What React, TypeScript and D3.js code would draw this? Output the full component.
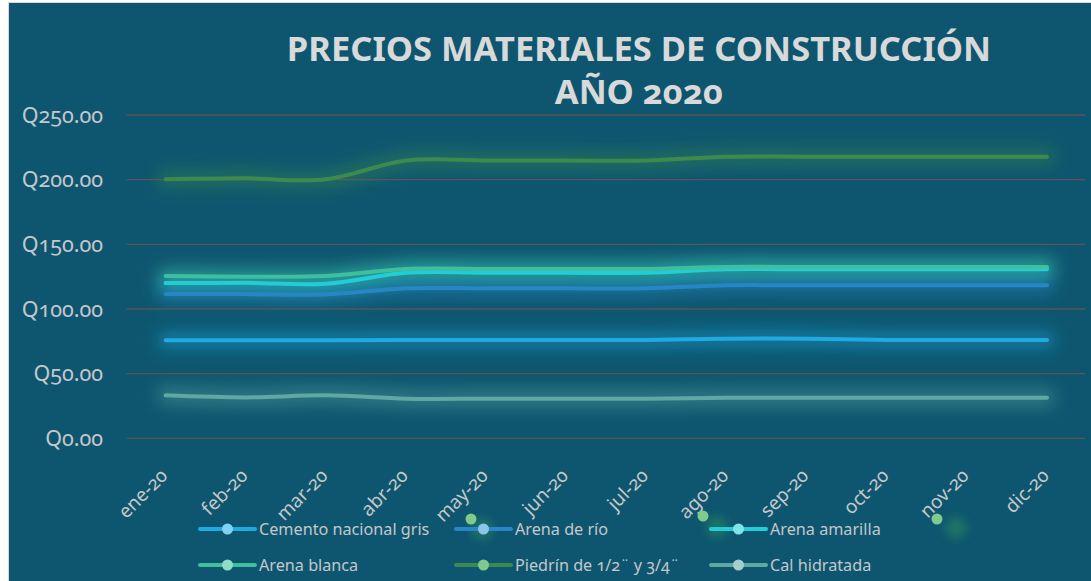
import React from "react";
import * as d3 from "d3";

const months = ["ene-20", "feb-20", "mar-20", "abr-20", "may-20", "jun-20", "jul-20", "ago-20", "sep-20", "oct-20", "nov-20", "dic-20"];

const cemento = [75.8, 75.8, 75.8, 76, 76, 76, 76, 77, 77, 76, 76, 76];
const arenaRio = [111.5, 111.5, 111.3, 116, 116, 116, 116, 118.3, 118.3, 118.3, 118.3, 118.3];
const arenaAmarilla = [120, 120.2, 119.5, 128, 128, 128, 128, 130.7, 130.7, 130.7, 130.7, 130.7];
const arenaBlanca = [125.5, 125, 125.5, 131, 131, 131, 131, 132.5, 132.5, 132.5, 132.5, 132.5];
const piedrin = [200.3, 201, 200.3, 214.8, 214.8, 214.8, 214.8, 217.8, 217.8, 217.8, 217.8, 217.8];
const cal = [33.2, 31.6, 33.2, 30.6, 30.6, 30.6, 30.6, 31.3, 31.3, 31.3, 31.3, 31.3];

const seriesNames = ["Cemento nacional gris", "Arena de río", "Arena amarilla", "Arena blanca", "Piedrín de 1/2¨ y 3/4¨", "Cal hidratada"];
const seriesValues = [cemento, arenaRio, arenaAmarilla, arenaBlanca, piedrin, cal];
const seriesColors = ["#1eabe2", "#2786c8", "#22cdd6", "#3fbf9b", "#3e8a4c", "#5fa9a2"];
const markerColors = ["#7fd2f2", "#8cc4ec", "#7fe4ea", "#90dcc6", "#80c98e", "#a6cfca"];

const yTicks = [0, 50, 100, 150, 200, 250];
const titleLines = ["PRECIOS MATERIALES DE CONSTRUCCIÓN", "AÑO 2020"];

// decorative stray markers seen in the reference
const strayDots = [
  { x: 471, y: 519, gx: 482, gy: 529 },
  { x: 703, y: 516, gx: 717, gy: 527 },
  { x: 937, y: 519, gx: 956, gy: 528 },
];

const W = 1091;
const H = 581;
const BG = "#0e566f";
const TEXT = "#c4c8ca";
const FONT = "'Noto Sans', sans-serif";
const OLD = { fontVariantNumeric: "oldstyle-nums", fontFeatureSettings: "'onum' 1" } as React.CSSProperties;

export default function App() {
  const x = d3.scalePoint<string>().domain(months).range([165.7, 1047]);
  const y = d3.scaleLinear().domain([0, 250]).range([438.3, 115]);
  const line = d3
    .line<number>()
    .x((_, i) => x(months[i]) as number)
    .y((d) => y(d))
    .curve(d3.curveCardinal.tension(0));

  const legendCols = [200, 456, 711];
  const legendRows = [529, 565];

  return (
    <svg width={W} height={H} style={{ position: "absolute", left: 0, top: 0, display: "block" }}>
      <defs>
        <filter id="glow" filterUnits="userSpaceOnUse" x="0" y="0" width={W} height={H}>
          <feGaussianBlur stdDeviation="8" />
        </filter>
        <filter id="blob" filterUnits="userSpaceOnUse" x="0" y="0" width={W} height={H}>
          <feGaussianBlur stdDeviation="4" />
        </filter>
      </defs>
      <rect x={0} y={0} width={W} height={H} fill="#ffffff" />
      <rect x={8.5} y={2.5} width={W + 10} height={H + 10} fill={BG} stroke="#d9d9d9" strokeWidth={1} />

      {/* title */}
      <g fill="#d9d9d9" fontFamily={FONT} fontWeight="bold" textAnchor="middle" style={OLD}>
        <text x={639} y={61} fontSize={34.5}>{titleLines[0]}</text>
        <text x={639} y={104} fontSize={34.5}>{titleLines[1]}</text>
      </g>

      {/* gridlines */}
      <g>
        {yTicks.map((t) => (
          <line key={t} x1={126.5} x2={1085} y1={y(t)} y2={y(t)} stroke="#5b5353" strokeWidth={1.3} />
        ))}
      </g>

      {/* y labels */}
      <g fill={TEXT} fontFamily={FONT} fontSize={21.5} textAnchor="end" style={OLD}>
        {yTicks.map((t) => (
          <text key={t} x={103} y={y(t)} dy="0.35em">{"Q" + t.toFixed(2)}</text>
        ))}
      </g>

      {/* glows */}
      <g filter="url(#glow)">
        {seriesValues.map((vals, i) => (
          <path key={i} d={line(vals) || ""} fill="none" stroke={seriesColors[i]} strokeWidth={18} strokeOpacity={0.42} strokeLinecap="round" />
        ))}
      </g>

      {/* lines */}
      <g>
        {seriesValues.map((vals, i) => (
          <path key={i} d={line(vals) || ""} fill="none" stroke={seriesColors[i]} strokeWidth={4} strokeLinecap="round" strokeLinejoin="round" />
        ))}
      </g>

      {/* x labels */}
      <g fill={TEXT} fontFamily={FONT} fontSize={19} textAnchor="end" style={OLD}>
        {months.map((m) => {
          const px = (x(m) as number) + 3;
          const py = 477;
          return (
            <text key={m} x={px} y={py} transform={`rotate(-45 ${px} ${py})`}>{m}</text>
          );
        })}
      </g>

      {/* stray markers */}
      <g>
        {strayDots.map((d, i) => (
          <g key={i}>
            <circle cx={d.gx} cy={d.gy} r={11} fill="#2a8a5e" opacity={0.55} filter="url(#blob)" />
            <circle cx={d.x} cy={d.y} r={5.5} fill="#7fca8e" />
          </g>
        ))}
      </g>

      {/* legend */}
      <g fontFamily={FONT} fontSize={16.2} fill={TEXT}>
        {seriesNames.map((name, i) => {
          const lx = legendCols[i % 3];
          const ly = legendRows[Math.floor(i / 3)];
          return (
            <g key={name}>
              <line x1={lx} x2={lx + 55} y1={ly} y2={ly} stroke={seriesColors[i]} strokeWidth={4} strokeLinecap="round" />
              <circle cx={lx + 27.5} cy={ly} r={5.5} fill={markerColors[i]} />
              <text x={lx + 59} y={ly} dy="0.35em" style={OLD}>{name}</text>
            </g>
          );
        })}
      </g>
    </svg>
  );
}
